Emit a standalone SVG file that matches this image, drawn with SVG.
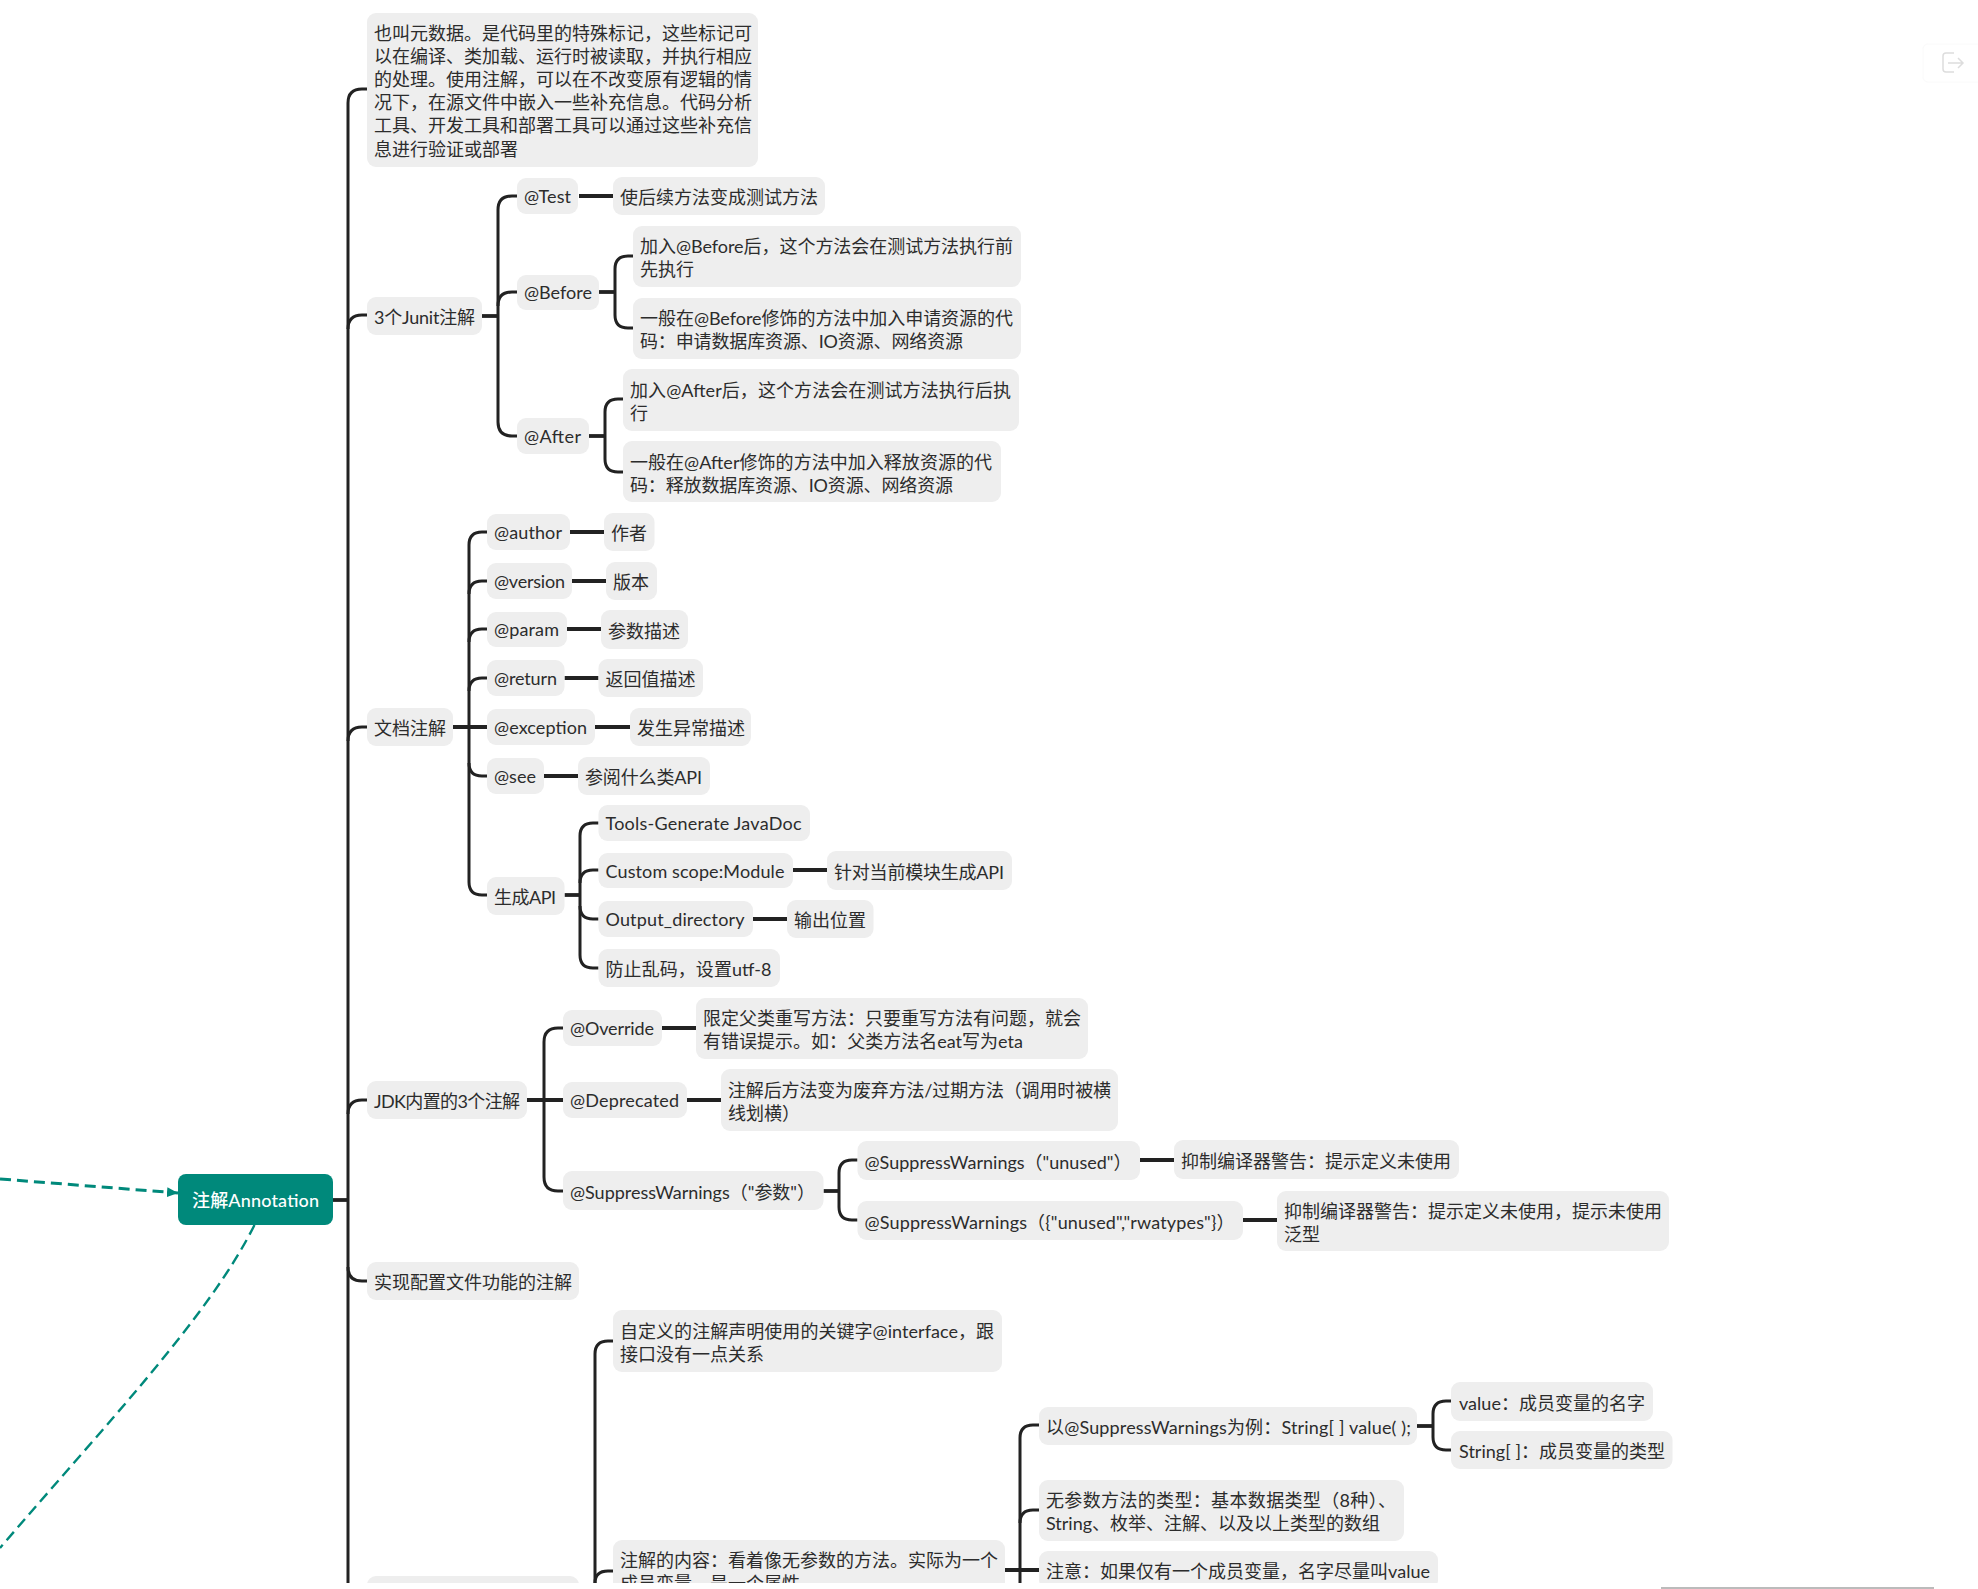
<svg xmlns="http://www.w3.org/2000/svg" width="1978" height="1589" viewBox="0 0 1978 1589">
<style>
.n{fill:#eee}
text{font-family:Lato,"Noto Sans CJK SC",sans-serif;font-size:18px;fill:#2c2c2c}
.c path{fill:none;stroke:#222;stroke-width:3}
.c .s{stroke-width:3.800}
.r{fill:#00897b}
.rt{fill:#fff;font-weight:500}
</style>
<defs>
<clipPath id="view"><rect x="0" y="0" width="1978" height="1583"/></clipPath>
<marker id="ah" markerUnits="userSpaceOnUse" markerWidth="12" markerHeight="10" refX="11" refY="5" orient="auto"><path d="M0 0L11 5L0 10Z" fill="#00897b"/></marker>
</defs>
<g clip-path="url(#view)">
<g id="connectors" class="c">
<path class="s" d="M333 1200H348"/>
<path d="M367 89H362Q348 89 348 103V1583"/>
<path d="M367 315H362Q348 315 348 329"/>
<path d="M367 727H362Q348 727 348 741"/>
<path d="M367 1100H362Q348 1100 348 1114"/>
<path d="M348 1267Q348 1281 362 1281H367"/>
<path class="s" d="M482 316H498"/>
<path d="M517 196H512Q498 196 498 210V422Q498 436 512 436H517"/>
<path d="M517 292H512Q498 292 498 306"/>
<path class="s" d="M579 196H613"/>
<path class="s" d="M599 292H615"/>
<path d="M633 256H628Q615 256 615 269V315Q615 328 628 328H633"/>
<path class="s" d="M589 436H605"/>
<path d="M623 399H618Q605 399 605 412V459Q605 472 618 472H623"/>
<path class="s" d="M453 727H487"/>
<path d="M487 532H482Q469 532 469 545V882Q469 895 482 895H487"/>
<path d="M487 581H482Q469 581 469 594"/>
<path d="M487 629H482Q469 629 469 642"/>
<path d="M487 678H482Q469 678 469 691"/>
<path d="M469 763Q469 776 482 776H487"/>
<path class="s" d="M570 532H604M572 581H606M567 629H601M564.500 678H598.500M595 727H630M544 776H578"/>
<path class="s" d="M564.500 895H580"/>
<path d="M598.500 823H593Q580 823 580 836V955Q580 968 593 968H598.500"/>
<path d="M598.500 870H593Q580 870 580 883"/>
<path d="M580 906Q580 919 593 919H598.500"/>
<path class="s" d="M793 870H827M753 919H787"/>
<path class="s" d="M527 1100H563"/>
<path d="M563 1028H558Q544 1028 544 1042V1177Q544 1191 558 1191H563"/>
<path class="s" d="M662 1028H696M687 1100H721"/>
<path class="s" d="M823.500 1191H839"/>
<path d="M857.500 1160H852Q839 1160 839 1173V1207Q839 1220 852 1220H857.500"/>
<path class="s" d="M1140 1160H1174M1243 1220H1277"/>
<path d="M613 1341H608Q595 1341 595 1354V1583"/>
<path d="M613 1571H608Q595 1571 595 1583"/>
<path class="s" d="M1005 1570H1039"/>
<path d="M1039 1425H1033Q1020 1425 1020 1438V1583"/>
<path d="M1039 1510H1033Q1020 1510 1020 1523"/>
<path class="s" d="M1417 1426H1433"/>
<path d="M1451 1401H1446Q1433 1401 1433 1414V1437Q1433 1450 1446 1450H1451"/>
</g>
<g id="relations" fill="none" stroke="#00897b">
<path d="M0 1179L178 1193" stroke-width="3" stroke-dasharray="11 6" marker-end="url(#ah)"/>
<path d="M254.500 1225C208 1318 105 1425 0 1548" stroke-width="2.400" stroke-dasharray="11 6"/>
</g>
<g id="root"><rect class="r" x="178" y="1174" width="155" height="51" rx="8"/><text class="rt" x="192" y="1207" textLength="127">注解Annotation</text></g>
<g id="n1"><rect class="n" x="367" y="13" width="391" height="154" rx="9"/><text x="374" y="40">也叫元数据。是代码里的特殊标记&#xFF0C;这些标记可</text><text x="374" y="63">以在编译、类加载、运行时被读取&#xFF0C;并执行相应</text><text x="374" y="86">的处理。使用注解&#xFF0C;可以在不改变原有逻辑的情</text><text x="374" y="109">况下&#xFF0C;在源文件中嵌入一些补充信息。代码分析</text><text x="374" y="132">工具、开发工具和部署工具可以通过这些补充信</text><text x="374" y="156">息进行验证或部署</text></g>
<g id="junit"><rect class="n" x="367" y="297" width="115" height="38" rx="9"/><text x="374" y="324" textLength="101">3个Junit注解</text></g>
<g id="test"><rect class="n" x="517" y="178" width="61" height="36" rx="9"/><text x="524" y="203" textLength="47">@Test</text></g>
<g id="test-d"><rect class="n" x="613" y="177" width="212" height="38" rx="9"/><text x="620" y="204">使后续方法变成测试方法</text></g>
<g id="before"><rect class="n" x="517" y="275" width="82" height="35" rx="9"/><text x="524" y="299" textLength="68">@Before</text></g>
<g id="before-a"><rect class="n" x="633" y="226" width="388" height="61" rx="9"/><text x="640" y="253" textLength="373">加入@Before后&#xFF0C;这个方法会在测试方法执行前</text><text x="640" y="276">先执行</text></g>
<g id="before-b"><rect class="n" x="633" y="298" width="388" height="61" rx="9"/><text x="640" y="325" textLength="373">一般在@Before修饰的方法中加入申请资源的代</text><text x="640" y="348" textLength="323">码&#xFF1A;申请数据库资源、IO资源、网络资源</text></g>
<g id="after"><rect class="n" x="517" y="418" width="72" height="36" rx="9"/><text x="524" y="443" textLength="57">@After</text></g>
<g id="after-a"><rect class="n" x="623" y="369" width="396" height="62" rx="9"/><text x="630" y="397" textLength="381">加入@After后&#xFF0C;这个方法会在测试方法执行后执</text><text x="630" y="420">行</text></g>
<g id="after-b"><rect class="n" x="623" y="441" width="378" height="61" rx="9"/><text x="630" y="469" textLength="362">一般在@After修饰的方法中加入释放资源的代</text><text x="630" y="492" textLength="323">码&#xFF1A;释放数据库资源、IO资源、网络资源</text></g>
<g id="doc"><rect class="n" x="367" y="708" width="86" height="38" rx="9"/><text x="374" y="735">文档注解</text></g>
<g id="author"><rect class="n" x="487" y="514" width="83" height="36" rx="9"/><text x="494" y="539" textLength="68">@author</text></g>
<g id="author-d"><rect class="n" x="604" y="513" width="50.500" height="38" rx="9"/><text x="611" y="540">作者</text></g>
<g id="version"><rect class="n" x="487" y="563" width="85" height="36" rx="9"/><text x="494" y="588" textLength="71">@version</text></g>
<g id="version-d"><rect class="n" x="606" y="562" width="51" height="38" rx="9"/><text x="613" y="589">版本</text></g>
<g id="param"><rect class="n" x="487" y="612" width="80" height="35" rx="9"/><text x="494" y="636" textLength="65">@param</text></g>
<g id="param-d"><rect class="n" x="601" y="610" width="87" height="39" rx="9"/><text x="608" y="638">参数描述</text></g>
<g id="return"><rect class="n" x="487" y="660" width="77.500" height="36" rx="9"/><text x="494" y="685" textLength="63">@return</text></g>
<g id="return-d"><rect class="n" x="598.500" y="659" width="104.500" height="38" rx="9"/><text x="605.500" y="686">返回值描述</text></g>
<g id="exception"><rect class="n" x="487" y="709" width="108" height="36" rx="9"/><text x="494" y="734" textLength="93">@exception</text></g>
<g id="exception-d"><rect class="n" x="630" y="708" width="121" height="38" rx="9"/><text x="637" y="735">发生异常描述</text></g>
<g id="see"><rect class="n" x="487" y="758" width="57" height="36" rx="9"/><text x="494" y="783" textLength="42">@see</text></g>
<g id="see-d"><rect class="n" x="578" y="757" width="132" height="38" rx="9"/><text x="585" y="784" textLength="117">参阅什么类API</text></g>
<g id="genapi"><rect class="n" x="487" y="877" width="77.500" height="38" rx="9"/><text x="494" y="904" textLength="62">生成API</text></g>
<g id="tools"><rect class="n" x="598.500" y="805" width="211.500" height="36" rx="9"/><text x="605.500" y="830" textLength="196">Tools-Generate JavaDoc</text></g>
<g id="scope"><rect class="n" x="598.500" y="853" width="194.500" height="35" rx="9"/><text x="605.500" y="878" textLength="179">Custom scope:Module</text></g>
<g id="scope-d"><rect class="n" x="827" y="851" width="185" height="39" rx="9"/><text x="834" y="879" textLength="170">针对当前模块生成API</text></g>
<g id="output"><rect class="n" x="598.500" y="901" width="154.500" height="36" rx="9"/><text x="605.500" y="926" textLength="139">Output_directory</text></g>
<g id="output-d"><rect class="n" x="787" y="900" width="86.500" height="38" rx="9"/><text x="794" y="927">输出位置</text></g>
<g id="utf"><rect class="n" x="598.500" y="949" width="181.500" height="38" rx="9"/><text x="605.500" y="976" textLength="166">防止乱码&#xFF0C;设置utf-8</text></g>
<g id="jdk"><rect class="n" x="367" y="1081" width="160" height="38" rx="9"/><text x="374" y="1108" textLength="146">JDK内置的3个注解</text></g>
<g id="override"><rect class="n" x="563" y="1010" width="99" height="36" rx="9"/><text x="570" y="1035" textLength="84">@Override</text></g>
<g id="override-d"><rect class="n" x="696" y="998" width="392" height="61" rx="9"/><text x="703" y="1025">限定父类重写方法&#xFF1A;只要重写方法有问题&#xFF0C;就会</text><text x="703" y="1048" textLength="320">有错误提示。如&#xFF1A;父类方法名eat写为eta</text></g>
<g id="deprecated"><rect class="n" x="563" y="1082" width="124" height="36" rx="9"/><text x="570" y="1107" textLength="109">@Deprecated</text></g>
<g id="deprecated-d"><rect class="n" x="721" y="1069" width="397" height="62" rx="9"/><text x="728" y="1097" textLength="383">注解后方法变为废弃方法/过期方法&#xFF08;调用时被横</text><text x="728" y="1120">线划横&#xFF09;</text></g>
<g id="sw"><rect class="n" x="563" y="1171" width="260.500" height="39" rx="9"/><text x="570" y="1199" textLength="245">@SuppressWarnings&#xFF08;"参数"&#xFF09;</text></g>
<g id="sw1"><rect class="n" x="857.500" y="1141" width="282.500" height="39" rx="9"/><text x="864.500" y="1169" textLength="267">@SuppressWarnings&#xFF08;"unused"&#xFF09;</text></g>
<g id="sw1-d"><rect class="n" x="1174" y="1140" width="285" height="39" rx="9"/><text x="1181" y="1168">抑制编译器警告&#xFF1A;提示定义未使用</text></g>
<g id="sw2"><rect class="n" x="857.500" y="1201" width="385.500" height="39" rx="9"/><text x="864.500" y="1229" textLength="370">@SuppressWarnings&#xFF08;{"unused","rwatypes"}&#xFF09;</text></g>
<g id="sw2-d"><rect class="n" x="1277" y="1191" width="392" height="60" rx="9"/><text x="1284" y="1218">抑制编译器警告&#xFF1A;提示定义未使用&#xFF0C;提示未使用</text><text x="1284" y="1241">泛型</text></g>
<g id="config"><rect class="n" x="367" y="1262" width="212" height="38" rx="9"/><text x="374" y="1289">实现配置文件功能的注解</text></g>
<g id="custom"><rect class="n" x="367" y="1576" width="212" height="38" rx="9"/></g>
<g id="decl"><rect class="n" x="613" y="1310" width="389" height="62" rx="9"/><text x="620" y="1338" textLength="374">自定义的注解声明使用的关键字@interface&#xFF0C;跟</text><text x="620" y="1361">接口没有一点关系</text></g>
<g id="content"><rect class="n" x="613" y="1540" width="392" height="62" rx="9"/><text x="620" y="1567">注解的内容&#xFF1A;看着像无参数的方法。实际为一个</text><text x="620" y="1590">成员变量&#xFF0C;是一个属性</text></g>
<g id="example"><rect class="n" x="1039" y="1407" width="378" height="38" rx="9"/><text x="1046" y="1434" textLength="365">以@SuppressWarnings为例&#xFF1A;String[ ] value( );</text></g>
<g id="value"><rect class="n" x="1451" y="1382" width="202" height="39" rx="9"/><text x="1459" y="1410" textLength="186">value&#xFF1A;成员变量的名字</text></g>
<g id="string"><rect class="n" x="1451" y="1431" width="221.500" height="38" rx="9"/><text x="1459" y="1458" textLength="206">String[ ]&#xFF1A;成员变量的类型</text></g>
<g id="types"><rect class="n" x="1039" y="1480" width="365" height="61" rx="9"/><text x="1046" y="1507" textLength="350">无参数方法的类型&#xFF1A;基本数据类型&#xFF08;8种&#xFF09;、</text><text x="1046" y="1530" textLength="334">String、枚举、注解、以及以上类型的数组</text></g>
<g id="note"><rect class="n" x="1039" y="1551" width="399" height="38" rx="9"/><text x="1046" y="1578" textLength="384">注意&#xFF1A;如果仅有一个成员变量&#xFF0C;名字尽量叫value</text></g>
</g>
<g id="exit" fill="none"><rect x="1923" y="44" width="70" height="38" rx="5" stroke="#fafafa"/><path d="M1954 53H1946Q1943 53 1943 56V69Q1943 72 1946 72H1954M1948 63H1962M1958 58L1963 63L1958 68" stroke="#ddd" stroke-width="1.500"/></g>
<rect id="scrollbar" x="1661" y="1587" width="273" height="2" fill="#bbb"/>
</svg>
